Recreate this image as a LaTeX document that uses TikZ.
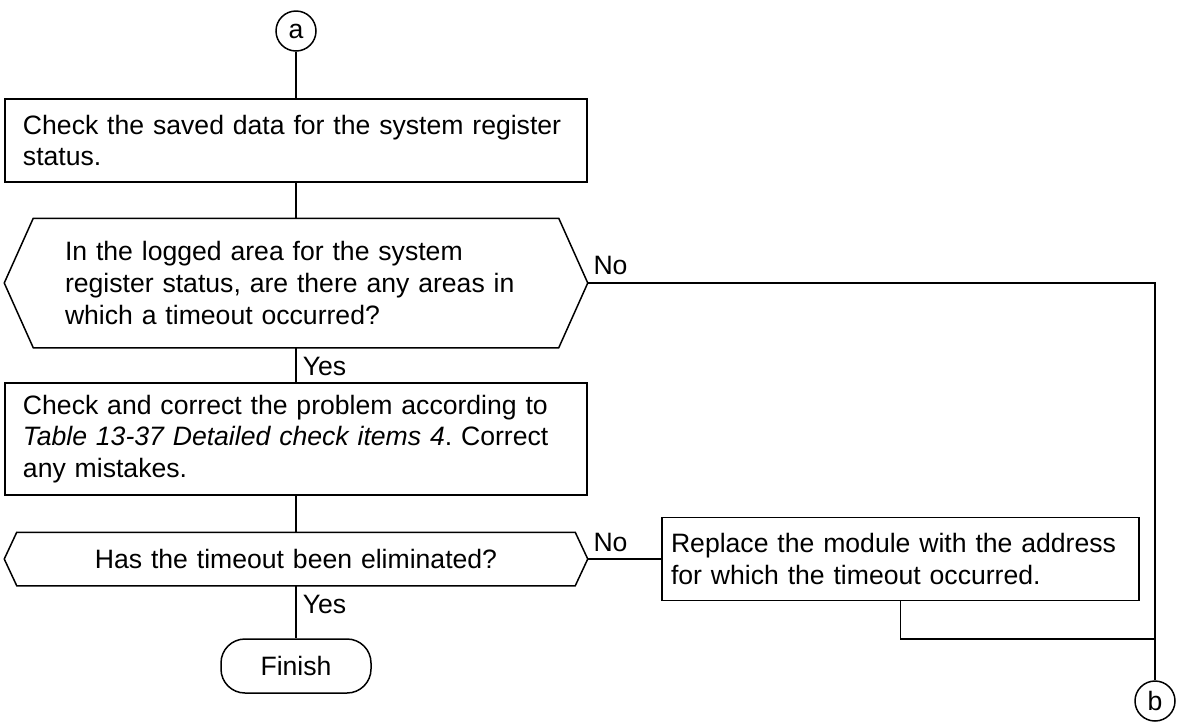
\documentclass[tikz,border=0pt]{standalone}
\usepackage{fontspec}
\setmainfont{Liberation Sans}
\usetikzlibrary{positioning}
\frenchspacing

\begin{document}
\begin{tikzpicture}[
    x=1pt, y=-1pt,
    line width=1.5pt,
    font=\fontsize{26.6}{31.7}\selectfont,
    box/.style={rectangle, draw, minimum height=83pt, inner xsep=18pt, text width=546pt, align=left},
    decision/.style={rectangle, minimum height=128pt, inner xsep=60pt, text width=462pt, align=left},
    term/.style={rectangle, draw, rounded corners=24pt, minimum width=150pt, minimum height=54pt},
    conn/.style={circle, draw, minimum size=40pt, inner sep=0pt},
    lbl/.style={inner sep=0pt}
]
\useasboundingbox (0,0) rectangle (1183,724);

% main column
\node[conn] (a) at (296,31) {a};
\node[box] (chk1) at (296,140.5) {Check the saved data for the system register\\status.};
\node[decision] (q1) at (296,283) {In the logged area for the system\\register status, are there any areas in\\which a timeout occurred?};
\draw (q1.west) -- ([xshift=29pt]q1.north west) -- ([xshift=-29pt]q1.north east) -- (q1.east)
    -- ([xshift=-29pt]q1.south east) -- ([xshift=29pt]q1.south west) -- cycle;
\node[box, minimum height=112pt] (chk2) at (296,439) {Check and correct the problem according to\\\textit{Table 13-37 Detailed check items 4}. Correct\\any mistakes.};
\node[decision, minimum height=52pt, inner xsep=18pt, text width=546pt, align=center] (q2) at (296,559) {Has the timeout been eliminated?};
\draw (q2.west) -- ([xshift=12.5pt]q2.north west) -- ([xshift=-12.5pt]q2.north east) -- (q2.east)
    -- ([xshift=-12.5pt]q2.south east) -- ([xshift=12.5pt]q2.south west) -- cycle;
\node[term] (fin) at (296,666) {Finish};

% right branch
\node[box, inner xsep=9pt, text width=459pt] (rep) at (900.5,559) {Replace the module with the address\\for which the timeout occurred.};
\node[conn] (b) at (1155,701) {b};
\coordinate (join) at (1155,639);

% connectors
\draw (a) -- (chk1);
\draw (chk1) -- (q1);
\draw (q1) -- (chk2);
\draw (chk2) -- (q2);
\draw (q2) -- (fin);
\draw (q2.east) -- (rep.west);
\draw (q1.east) -| (b.north);
\draw (rep.south) |- (join);

% labels
\node[lbl, anchor=north west] (yes1) at ([xshift=6pt, yshift=-9pt]q1.south) {Yes};
\node[lbl, anchor=north west] (yes2) at ([xshift=6pt, yshift=-9pt]q2.south) {Yes};
\node[lbl, anchor=south west] (no1) at ([xshift=5pt, yshift=7pt]q1.east) {No};
\node[lbl, anchor=south west] (no2) at ([xshift=5pt, yshift=7pt]q2.east) {No};

\end{tikzpicture}
\end{document}
